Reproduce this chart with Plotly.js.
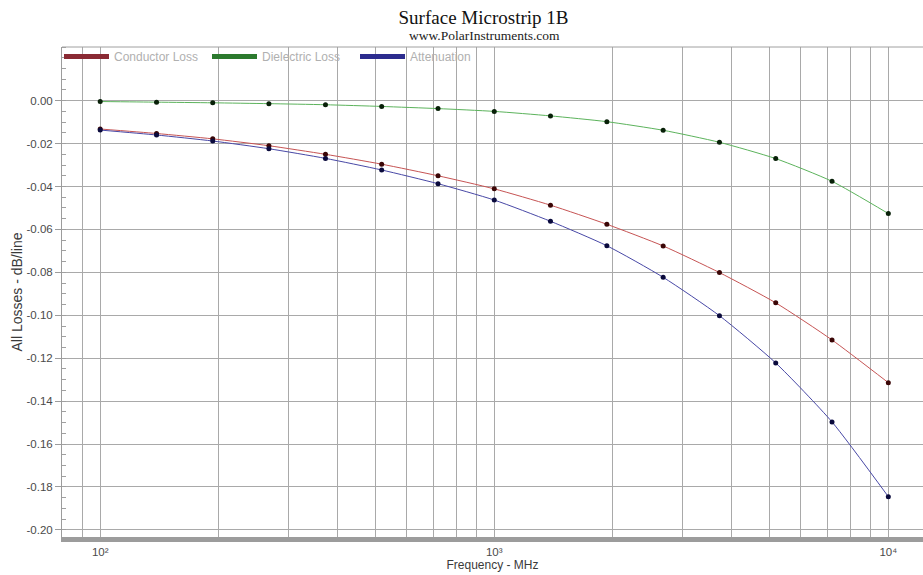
<!DOCTYPE html>
<html>
<head>
<meta charset="utf-8">
<script src="https://cdn.plot.ly/plotly-3.0.1.min.js"></script>
<style>
html,body{margin:0;padding:0;background:#ffffff;}
#chart{width:923px;height:575px;}
</style>
</head>
<body>
<div id="chart"></div>
<script>
// ---- data ----
const freqMHz = [100, 139, 193, 268, 373, 518, 720, 1000, 1389, 1931, 2683, 3728, 5179, 7197, 10000];
const conductorLoss = [-0.0132, -0.0153, -0.0178, -0.0210, -0.0250, -0.0296, -0.0350, -0.0411, -0.0487, -0.0576, -0.0677, -0.0801, -0.0942, -0.1115, -0.1314];
const dielectricLoss = [-0.0004, -0.0007, -0.0010, -0.0014, -0.0019, -0.0027, -0.0037, -0.0050, -0.0071, -0.0098, -0.0138, -0.0194, -0.0270, -0.0376, -0.0526];
const attenuation = [-0.0137, -0.0160, -0.0188, -0.0224, -0.0269, -0.0323, -0.0387, -0.0463, -0.0562, -0.0676, -0.0823, -0.1002, -0.1222, -0.1497, -0.1845];
const seriesNames = ['Conductor Loss', 'Dielectric Loss', 'Attenuation'];

const xTickVals = [80, 90, 100, 200, 300, 400, 500, 600, 700, 800, 900, 1000, 2000, 3000, 4000, 5000, 6000, 7000, 8000, 9000, 10000];
const xTickText = ['', '', '10\u00B2', '', '', '', '', '', '', '', '', '10\u00B3', '', '', '', '', '', '', '', '', '10\u2074'];
const yTickVals = [0, -0.02, -0.04, -0.06, -0.08, -0.10, -0.12, -0.14, -0.16, -0.18, -0.20];
const yTickText = ['0.00', '-0.02', '-0.04', '-0.06', '-0.08', '-0.10', '-0.12', '-0.14', '-0.16', '-0.18', '-0.20'];

const chartTitle = 'Surface Microstrip 1B';
const chartSubtitle = 'www.PolarInstruments.com';
const xTitle = 'Frequency - MHz';
const yTitle = 'All Losses - dB/line';

// ---- styling ----
const lineColors = ['#c65454', '#5cb35c', '#4848a6'];
const markerColors = ['#3a0606', '#082008', '#0a0a3c'];
const legendColors = ['#8a2a34', '#2c7a2e', '#2c2c8e'];
const seriesData = [conductorLoss, dielectricLoss, attenuation];

const traces = [];
seriesData.forEach((ys, i) => {
  traces.push({
    x: freqMHz, y: ys, name: seriesNames[i], legendgroup: 'g' + i,
    type: 'scatter', mode: 'lines+markers', showlegend: false,
    line: {color: lineColors[i], width: 1, shape: 'spline', smoothing: 0.6},
    marker: {color: markerColors[i], size: 5}
  });
});
seriesData.forEach((ys, i) => {
  traces.push({
    x: [null], y: [null], name: seriesNames[i], legendgroup: 'g' + i,
    type: 'scatter', mode: 'lines', showlegend: true,
    line: {color: legendColors[i], width: 5}
  });
});

const font = 'Liberation Sans, Arial, sans-serif';
const serif = 'Liberation Serif, Times New Roman, serif';
const layout = {
  width: 923, height: 575,
  margin: {l: 62, r: 0, t: 47, b: 38},
  paper_bgcolor: '#ffffff', plot_bgcolor: '#ffffff',
  font: {family: font, color: '#444444', size: 12},
  title: {
    text: chartTitle,
    font: {family: serif, size: 19, color: '#111111'},
    xref: 'container', x: 483.5 / 923, xanchor: 'center',
    yref: 'container', y: 1 - 17 / 575, yanchor: 'middle'
  },
  annotations: [
    {text: chartSubtitle, xref: 'paper', yref: 'paper',
     x: (484 - 62) / 861, y: 1 + (47 - 36) / 490, xanchor: 'center', yanchor: 'middle',
     showarrow: false, font: {family: serif, size: 13.5, color: '#222222'}}
  ],
  showlegend: true,
  legend: {
    orientation: 'h', x: -3 / 861, xanchor: 'left', y: 1 + 5 / 490, yanchor: 'top',
    xref: 'paper', yref: 'paper',
    bgcolor: 'rgba(0,0,0,0)', borderwidth: 0,
    font: {family: font, size: 12, color: '#b0b0b0'},
    itemwidth: 45, entrywidth: 88, entrywidthmode: 'pixels',
    itemclick: 'toggleothers'
  },
  xaxis: {
    type: 'log', range: [Math.log10(80), 4.088],
    tickmode: 'array', tickvals: xTickVals, ticktext: xTickText,
    ticks: '', showgrid: true, gridcolor: '#a9a9a9', gridwidth: 1,
    showline: true, linecolor: '#9c9c9c', linewidth: 5,
    zeroline: false,
    tickfont: {family: font, size: 11.5, color: '#4a4a4a'},
    title: {text: xTitle, font: {family: font, size: 12, color: '#3a3a3a'}, standoff: 2},
    automargin: false
  },
  yaxis: {
    range: [-0.2033, 0.025],
    tickmode: 'array', tickvals: yTickVals, ticktext: yTickText,
    ticks: 'outside', ticklen: 6, tickcolor: '#9c9c9c', tickwidth: 1,
    showgrid: true, gridcolor: '#a9a9a9', gridwidth: 1,
    showline: true, linecolor: '#9c9c9c', linewidth: 1,
    zeroline: false,
    minor: {dtick: 0.005, tick0: 0, ticks: 'inside', ticklen: 4, tickcolor: '#a0a0a0', showgrid: false},
    tickfont: {family: font, size: 11.5, color: '#4a4a4a'},
    title: {text: yTitle, font: {family: font, size: 14, color: '#3a3a3a'}, standoff: 0},
    automargin: false
  },
  shapes: [
    {type: 'line', xref: 'paper', yref: 'paper', x0: 0, x1: 1, y0: 1, y1: 1,
     line: {color: '#a0a0a0', width: 1}}
  ]
};

Plotly.newPlot('chart', traces, layout, {displayModeBar: false, responsive: false});
</script>
</body>
</html>
